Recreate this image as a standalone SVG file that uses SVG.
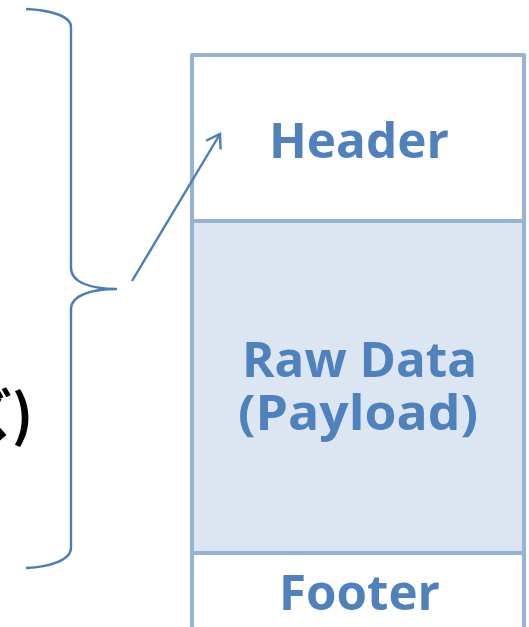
<svg xmlns="http://www.w3.org/2000/svg" width="529" height="627" viewBox="0 0 529 627">
<style>
.box{stroke:#95b3d7;stroke-width:4;stroke-linejoin:round}
.lbl{font-family:"Open Sans","Liberation Sans",sans-serif;font-weight:700;fill:#4f81bd;text-anchor:middle}
.conn{fill:none;stroke:#4a7ebb;stroke-width:2.4}
</style>
<defs>
<marker id="open" viewBox="0 0 20 20" refX="16" refY="10" markerWidth="20" markerHeight="20" markerUnits="userSpaceOnUse" orient="auto">
<path d="M3,1.5 L16,10 L3,18.5" fill="none" stroke="#4a7ebb" stroke-width="2.4"/>
</marker>
</defs>
<rect width="529" height="627" fill="#ffffff"/>
<g id="side-text">
<text x="-44" y="436" font-family="'Noto Sans CJK JP',sans-serif" font-weight="700" font-size="56" fill="#000000">ズ)</text>
</g>
<g id="header">
<rect class="box" x="192" y="55" width="332" height="166" fill="#ffffff"/>
<text class="lbl" x="359" y="158" font-size="49" textLength="180" lengthAdjust="spacingAndGlyphs">Header</text>
</g>
<g id="rawdata">
<rect class="box" x="192" y="221" width="332" height="332" fill="#dce6f2"/>
<text class="lbl" x="359.5" y="377" font-size="49" textLength="235" lengthAdjust="spacingAndGlyphs">Raw Data</text>
<text class="lbl" x="358" y="430" font-size="49" textLength="240" lengthAdjust="spacingAndGlyphs">(Payload)</text>
</g>
<g id="footer">
<rect class="box" x="192" y="553" width="332" height="76" fill="#ffffff"/>
<text class="lbl" x="359.5" y="610" font-size="49" textLength="161" lengthAdjust="spacingAndGlyphs">Footer</text>
</g>
<g id="connectors">
<path class="conn" stroke-width="1.7" d="M26,9 C50,10 71,16 71,27 L71,268 C71,282 90,289 117,289 C90,289 71,296 71,309 L71,548 C71,560 50,567 26,568"/>
<path class="conn" d="M132,281 L220,134" marker-end="url(#open)"/>
</g>
</svg>
